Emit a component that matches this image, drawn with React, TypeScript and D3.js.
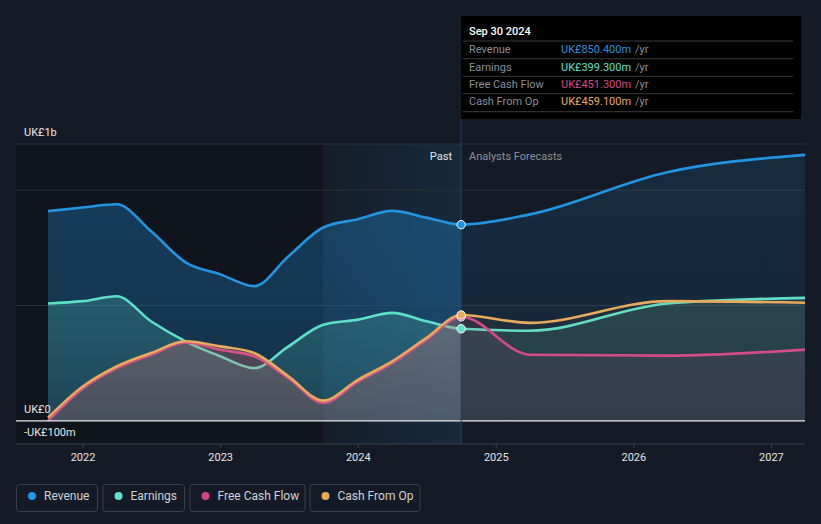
import React from "react";
import * as d3 from "d3";

const pastDates = [
  "2021-09-30", "2021-12-31", "2022-03-31", "2022-06-30", "2022-09-30", "2022-12-31",
  "2023-03-31", "2023-06-30", "2023-09-30", "2023-12-31", "2024-03-31", "2024-06-30", "2024-09-30",
];
const forecastDates = ["2025-03-31", "2026-03-31", "2027-03-31"];

const revenuePast = [909, 925, 939, 823, 687, 635, 584, 714, 838, 874, 910, 881, 850.4];
const revenueForecast = [895, 1078, 1153];
const earningsPast = [509, 519, 540, 432, 345, 280, 229, 323, 417, 439, 468, 432, 399.3];
const earningsForecast = [391, 509, 533];
const fcfPast = [0, 140, 228, 286, 340, 308, 280, 185, 78, 170, 250, 352, 451.3];
const fcfForecast = [287, 283, 309];
const cfoPast = [14, 149, 236, 294, 345, 323, 294, 193, 88, 178, 258, 360, 459.1];
const cfoForecast = [425, 519, 512];

const xTicks = ["2022", "2023", "2024", "2025", "2026", "2027"];
const yLabels = [
  { v: 1200, t: "UK£1b" },
  { v: 0, t: "UK£0" },
  { v: -100, t: "-UK£100m" },
];
const gridValues = [1200, 1000, 500];

const series = [
  { key: "rev", name: "Revenue", color: "#2394df", past: revenuePast, fc: revenueForecast, tip: "UK£850.400m", a: [0.32, 0.22], f: [0.13, 0.1] },
  { key: "earn", name: "Earnings", color: "#5de0c7", past: earningsPast, fc: earningsForecast, tip: "UK£399.300m", a: [0.3, 0.12], f: [0.16, 0.08] },
  { key: "fcf", name: "Free Cash Flow", color: "#d2478a", past: fcfPast, fc: fcfForecast, tip: "UK£451.300m", a: [0.26, 0.14], f: [0.12, 0.08] },
  { key: "cfo", name: "Cash From Op", color: "#e8aa5c", past: cfoPast, fc: cfoForecast, tip: "UK£459.100m", a: [0.2, 0.1], f: [0.06, 0.04] },
];

const W = 821;
const H = 524;
const parse = d3.timeParse("%Y-%m-%d");

export default function App() {
  const allDates = [...pastDates, ...forecastDates].map((d) => parse(d) as Date);
  const x = d3
    .scaleTime()
    .domain([parse("2021-09-30") as Date, parse("2027-03-31") as Date])
    .range([48, 805]);
  const y = d3.scaleLinear().domain([-100, 1200]).range([444, 144]);
  const nowX = x(parse("2024-09-30") as Date);
  const bandX = x(parse("2023-09-30") as Date);

  const font = "Roboto, 'Noto Sans', sans-serif";

  const mk = (s: any) => {
    const vals = [...s.past, ...s.fc];
    return allDates.map((d, i) => ({ d, v: vals[i] }));
  };
  const line = d3
    .line<any>()
    .x((p) => x(p.d))
    .y((p) => y(p.v))
    .curve(d3.curveMonotoneX);
  const area = d3
    .area<any>()
    .x((p) => x(p.d))
    .y0(y(0))
    .y1((p) => y(p.v))
    .curve(d3.curveMonotoneX);

  const tipRows = series.map((s, i) => ({ ...s, cy: 49.3 + i * 17.35 }));
  const sepYs = [41, 58.7, 76.3, 93.7, 111.7];

  const legend = [
    { x: 16, w: 81 },
    { x: 102.5, w: 81.5 },
    { x: 189.5, w: 115 },
    { x: 309.5, w: 110 },
  ];

  return (
    <svg
      width={W}
      height={H}
      style={{ position: "fixed", left: 0, top: 0, display: "block" }}
      fontFamily={font}
    >
      <defs>
        <clipPath id="pastClip">
          <rect x={0} y={0} width={nowX} height={H} />
        </clipPath>
        <clipPath id="fcClip">
          <rect x={nowX} y={0} width={805 - nowX} height={H} />
        </clipPath>
        <linearGradient id="band" x1="0" x2="1" y1="0" y2="0">
          <stop offset="0" stopColor="#2394df" stopOpacity={0.02} />
          <stop offset="1" stopColor="#2394df" stopOpacity={0.13} />
        </linearGradient>
        {series.map((s) => (
          <React.Fragment key={s.key}>
            <linearGradient id={`gp-${s.key}`} gradientUnits="userSpaceOnUse" x1="0" x2="0" y1={190} y2={421}>
              <stop offset="0" stopColor={s.color} stopOpacity={s.a[0]} />
              <stop offset="1" stopColor={s.color} stopOpacity={s.a[1]} />
            </linearGradient>
            <linearGradient id={`gf-${s.key}`} gradientUnits="userSpaceOnUse" x1="0" x2="0" y1={190} y2={421}>
              <stop offset="0" stopColor={s.color} stopOpacity={s.f[0]} />
              <stop offset="1" stopColor={s.color} stopOpacity={s.f[1]} />
            </linearGradient>
          </React.Fragment>
        ))}
      </defs>

      <rect x={0} y={0} width={W} height={H} fill="#151b26" />

      {/* past darker overlay and highlight band */}
      <rect x={16} y={144} width={bandX - 16} height={300} fill="#0b0e12" opacity={0.45} />
      <rect x={bandX} y={144} width={nowX - bandX} height={300} fill="url(#band)" />

      {/* gridlines */}
      {gridValues.map((g) => (
        <line key={g} x1={16} x2={805} y1={y(g)} y2={y(g)} stroke="#2b313c" strokeWidth={1} />
      ))}

      {/* series */}
      {series.map((s) => {
        const pts = mk(s);
        return (
          <g key={s.key}>
            <path d={area(pts) as string} fill={`url(#gp-${s.key})`} clipPath="url(#pastClip)" />
            <path d={area(pts) as string} fill={`url(#gf-${s.key})`} clipPath="url(#fcClip)" />
            <path d={line(pts) as string} fill="none" stroke={s.color} strokeWidth={2.6} />
          </g>
        );
      })}

      {/* zero line and axis */}
      <line x1={16} x2={805} y1={y(0)} y2={y(0)} stroke="#e8e8e8" strokeWidth={1.2} />
      <line x1={16} x2={805} y1={444} y2={444} stroke="#3c424d" strokeWidth={1} />
      {xTicks.map((t) => {
        const tx = x(parse(`${t}-01-01`) as Date);
        return (
          <g key={t}>
            <line x1={tx} x2={tx} y1={444} y2={448} stroke="#3c424d" />
            <text x={tx} y={461} textAnchor="middle" fontSize={11} fill="#e6e6e6">
              {t}
            </text>
          </g>
        );
      })}

      {/* y labels */}
      {yLabels.map((l) => (
        <text key={l.t} x={24} y={y(l.v) - 8} fontSize={11} fill="#e6e6e6">
          {l.t}
        </text>
      ))}

      {/* now line */}
      <line x1={nowX} x2={nowX} y1={119} y2={444} stroke="#24405c" strokeWidth={1} />
      <text x={452} y={160} textAnchor="end" fontSize={11} fill="#e6e6e6">
        Past
      </text>
      <text x={469} y={160} fontSize={11} fill="#8b9099">
        Analysts Forecasts
      </text>

      {/* dots */}
      {series.map((s) => (
        <circle
          key={s.key}
          cx={nowX}
          cy={y(s.past[s.past.length - 1])}
          r={4.2}
          fill={s.color}
          stroke="#ffffff"
          strokeWidth={1}
        />
      ))}

      {/* tooltip */}
      <rect x={461} y={16} width={340} height={103} fill="#000000" />
      <text x={469} y={35} fontSize={11} fontWeight={500} fill="#ffffff">
        Sep 30 2024
      </text>
      {sepYs.map((sy) => (
        <line key={sy} x1={463} x2={793} y1={sy} y2={sy} stroke="#3a3a3a" strokeWidth={1} />
      ))}
      {tipRows.map((r) => (
        <g key={r.key}>
          <text x={469} y={r.cy + 4} fontSize={11} fill="#8b8f96">
            {r.name}
          </text>
          <text x={561} y={r.cy + 4} fontSize={11} fill={r.color}>
            {r.tip}
            <tspan fill="#8b8f96" dx={4}>/yr</tspan>
          </text>
        </g>
      ))}

      {/* legend */}
      {series.map((s, i) => (
        <g key={s.key}>
          <rect
            x={legend[i].x + 0.5}
            y={484.5}
            width={legend[i].w}
            height={27}
            rx={3}
            fill="none"
            stroke="#3b414c"
            strokeWidth={1}
          />
          <circle cx={legend[i].x + 16} cy={496} r={4} fill={s.color} />
          <text x={legend[i].x + 28} y={500} fontSize={12} fill="#cfd2d6">
            {s.name}
          </text>
        </g>
      ))}
    </svg>
  );
}
